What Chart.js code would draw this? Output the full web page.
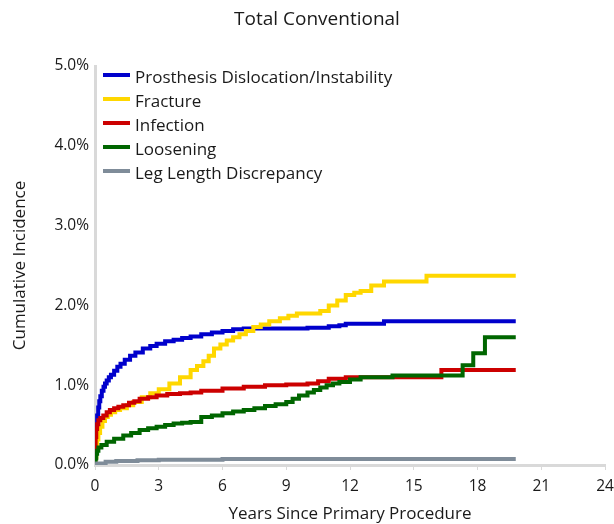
<!DOCTYPE html>
<html>
<head>
<meta charset="utf-8">
<script src="https://cdn.jsdelivr.net/npm/chart.js@4"></script>
<style>
  html, body { margin: 0; padding: 0; background: #fff; }
  #wrap { width: 614px; height: 524px; }
</style>
</head>
<body>
<div id="wrap"><canvas id="incidenceChart"></canvas></div>
<script>
// cumulative incidence (%), x = years since primary procedure
const dislocationYears = [0, 0.01, 0.03, 0.06, 0.1, 0.15, 0.2, 0.25, 0.32, 0.4, 0.47, 0.55, 0.65, 0.75, 0.9, 1.05, 1.2, 1.4, 1.65, 1.9, 2.25, 2.6, 2.9, 3.3, 3.7, 4.1, 4.5, 5.0, 5.5, 6.0, 6.5, 7.0, 8.0, 9.0, 10.0, 10.5, 11.0, 11.5, 11.8, 13.6, 19.8];
const dislocationValues = [0, 0.15, 0.35, 0.5, 0.62, 0.72, 0.8, 0.86, 0.93, 0.98, 1.02, 1.06, 1.1, 1.13, 1.18, 1.23, 1.27, 1.32, 1.37, 1.41, 1.46, 1.49, 1.52, 1.55, 1.57, 1.59, 1.61, 1.64, 1.66, 1.68, 1.70, 1.71, 1.71, 1.71, 1.72, 1.72, 1.74, 1.75, 1.77, 1.80, 1.80];

const fractureYears = [0, 0.02, 0.06, 0.1, 0.16, 0.24, 0.35, 0.47, 0.6, 0.75, 0.95, 1.18, 1.5, 1.8, 2.2, 2.6, 3.0, 3.5, 4.0, 4.5, 4.8, 5.1, 5.35, 5.6, 5.9, 6.2, 6.5, 6.8, 7.1, 7.45, 7.8, 8.2, 8.7, 9.1, 9.5, 10.0, 10.6, 11.0, 11.4, 11.8, 12.2, 12.5, 13.0, 13.6, 15.6, 19.8];
const fractureValues = [0, 0.1, 0.22, 0.32, 0.4, 0.48, 0.55, 0.6, 0.63, 0.66, 0.69, 0.71, 0.75, 0.79, 0.85, 0.9, 0.95, 1.02, 1.1, 1.19, 1.24, 1.3, 1.37, 1.46, 1.51, 1.56, 1.6, 1.64, 1.68, 1.73, 1.76, 1.8, 1.84, 1.87, 1.9, 1.9, 1.93, 2.0, 2.06, 2.13, 2.16, 2.18, 2.25, 2.3, 2.37, 2.37];

const infectionYears = [0, 0.01, 0.03, 0.06, 0.1, 0.16, 0.25, 0.39, 0.55, 0.7, 0.9, 1.1, 1.33, 1.6, 1.85, 2.1, 2.5, 2.9, 3.4, 4.0, 4.5, 5.0, 6.0, 7.0, 8.0, 9.0, 10.0, 10.5, 11.0, 11.8, 16.3, 19.8];
const infectionValues = [0, 0.2, 0.35, 0.45, 0.51, 0.56, 0.59, 0.62, 0.66, 0.69, 0.71, 0.73, 0.75, 0.78, 0.8, 0.83, 0.85, 0.87, 0.89, 0.9, 0.91, 0.93, 0.96, 0.98, 1.0, 1.01, 1.02, 1.05, 1.08, 1.1, 1.19, 1.19];

const looseningYears = [0, 0.02, 0.06, 0.1, 0.16, 0.3, 0.55, 0.9, 1.33, 1.7, 2.1, 2.5, 2.9, 3.3, 3.7, 4.1, 4.5, 5.0, 5.5, 6.0, 6.5, 7.0, 7.5, 8.0, 8.5, 9.0, 9.3, 9.6, 10.0, 10.3, 10.6, 10.9, 11.2, 11.5, 12.0, 12.5, 14.0, 17.3, 17.8, 18.35, 19.8];
const looseningValues = [0, 0.08, 0.14, 0.18, 0.22, 0.25, 0.29, 0.33, 0.37, 0.4, 0.44, 0.46, 0.48, 0.5, 0.52, 0.53, 0.54, 0.6, 0.62, 0.65, 0.67, 0.69, 0.71, 0.74, 0.76, 0.79, 0.83, 0.87, 0.91, 0.94, 0.97, 1.0, 1.02, 1.04, 1.07, 1.1, 1.12, 1.25, 1.4, 1.6, 1.6];

const legLengthYears = [0, 0.1, 0.5, 1.0, 2.0, 3.0, 6.0, 19.8];
const legLengthValues = [0, 0.02, 0.04, 0.05, 0.06, 0.065, 0.075, 0.075];

const seriesLabels = ['Prosthesis Dislocation/Instability', 'Fracture', 'Infection', 'Loosening', 'Leg Length Discrepancy'];
const seriesColors = ['#0000cc', '#ffd700', '#cc0000', '#006600', '#7f8c99'];
const xTicks = [0, 3, 6, 9, 12, 15, 18, 21, 24];
const yTicks = [0, 1, 2, 3, 4, 5];
const chartTitle = 'Total Conventional';

const FONT = '"Open Sans", sans-serif';

function toPoints(xs, ys) {
    return xs.map((x, i) => ({ x: x, y: ys[i] }));
}

const allSeries = [
    toPoints(dislocationYears, dislocationValues),
    toPoints(fractureYears, fractureValues),
    toPoints(infectionYears, infectionValues),
    toPoints(looseningYears, looseningValues),
    toPoints(legLengthYears, legLengthValues)
];

// title + legend drawn by hand: title is off-centre, legend sits inside the plot
const overlay = {
    id: 'overlay',
    afterDraw(chart) {
        const c = chart.ctx;
        const left = chart.chartArea.left;
        c.save();
        c.fillStyle = '#1a1a1a';
        c.textBaseline = 'middle';
        c.textAlign = 'center';
        c.font = '19px ' + FONT;
        c.fillText(chartTitle, 317, 20);

        c.textAlign = 'left';
        c.font = '17px ' + FONT;
        seriesLabels.forEach((lab, i) => {
            const y = 75 + i * 24;
            c.strokeStyle = seriesColors[i];
            c.lineWidth = 4;
            c.beginPath();
            c.moveTo(left + 8, y);
            c.lineTo(left + 35, y);
            c.stroke();
            c.fillText(lab, left + 40, y + 3);
        });
        c.restore();
    }
};

const ctx = document.getElementById('incidenceChart').getContext('2d');
const incidenceChart = new Chart(ctx, {
    type: 'line',
    data: {
        datasets: allSeries.map((pts, i) => ({
            label: seriesLabels[i],
            data: pts,
            borderColor: seriesColors[i],
            backgroundColor: seriesColors[i],
            borderWidth: 4,
            pointRadius: 0,
            stepped: true,
            fill: false,
            order: allSeries.length - i
        }))
    },
    options: {
        responsive: true,
        maintainAspectRatio: false,
        animation: false,
        layout: { padding: { left: 0, right: 0, top: 66, bottom: 0 } },
        plugins: {
            legend: { display: false },
            tooltip: { enabled: false },
            title: { display: false }
        },
        scales: {
            x: {
                type: 'linear',
                min: 0,
                max: 24,
                afterBuildTicks: (axis) => { axis.ticks = xTicks.map(v => ({ value: v })); },
                afterFit: (axis) => { axis.height = 59; axis.paddingRight = 9; },
                ticks: {
                    color: '#1a1a1a',
                    font: { family: FONT, size: 15.5 },
                    padding: 7
                },
                grid: { drawOnChartArea: false, drawTicks: true, tickLength: 5, color: '#d9d9d9' },
                border: { color: '#d9d9d9', width: 3 },
                title: {
                    display: true,
                    text: 'Years Since Primary Procedure',
                    color: '#1a1a1a',
                    font: { family: FONT, size: 17 },
                    padding: { top: 0, bottom: 0 }
                }
            },
            y: {
                min: 0,
                max: 5,
                afterBuildTicks: (axis) => { axis.ticks = yTicks.map(v => ({ value: v })); },
                afterFit: (axis) => { axis.width = 95; },
                ticks: {
                    color: '#1a1a1a',
                    font: { family: FONT, size: 15.5 },
                    padding: 6,
                    callback: (v) => v.toFixed(1) + '%'
                },
                grid: { drawOnChartArea: false, drawTicks: false },
                border: { color: '#d9d9d9', width: 3 },
                title: {
                    display: true,
                    text: 'Cumulative Incidence',
                    color: '#1a1a1a',
                    font: { family: FONT, size: 17 },
                    padding: { top: 10, bottom: 0 }
                }
            }
        }
    },
    plugins: [overlay]
});
</script>
</body>
</html>
